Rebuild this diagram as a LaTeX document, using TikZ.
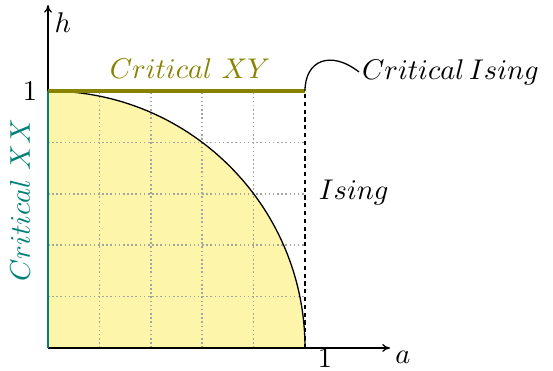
\documentclass[tikz,border=0pt]{standalone}
\usetikzlibrary{arrows.meta}
\definecolor{fillyellow}{RGB}{253,245,170}
\definecolor{xyolive}{RGB}{135,130,0}
\definecolor{xxteal}{RGB}{0,128,120}
\definecolor{gridgray}{RGB}{165,165,160}
\tikzset{
  gridline/.style={gridgray, densely dotted, line width=0.6pt},
  axisline/.style={line width=0.5pt, -{To[length=3pt,width=3pt]}},
  lbl/.style={font=\fontsize{11pt}{13pt}\selectfont, inner sep=1pt},
  isingline/.style={black, line width=1pt, dash pattern=on 1.6pt off 1.4pt},
}
\begin{document}
\begin{tikzpicture}[x=3.47cm,y=3.47cm]
\useasboundingbox (-0.1868,-0.0895) rectangle (1.965,1.354);
% fill
\fill[fillyellow] (0,0) -- (0,1) arc (90:0:1) -- cycle;
% grid
\foreach \i in {1,2,3,4} {
  \draw[gridline] (\i/5,0) -- (\i/5,1);
  \draw[gridline] (0,\i/5) -- (1,\i/5);
}
% arc
\draw[line width=0.5pt] (0,1) arc (90:0:1);
% coordinates
\coordinate (O) at (0,0);
\coordinate (X) at (1.331,0);
\coordinate (Y) at (0,1.335);
\coordinate (P) at (1,1);
\coordinate (Q) at (1,0);
\coordinate (T) at (0,1);
% axes
\draw[axisline] (O) -- (X);
\draw[axisline] (O) -- (Y);
% critical lines
\draw[isingline] (Q) -- (P);
\draw[xyolive, line width=1.6pt] (T) -- (P);
\draw[xxteal, line width=0.9pt] (O) -- (T);
% labels
\node[lbl] (h) at (0.058,1.268) {$h$};
\node[lbl] (a) at (1.381,-0.035) {$a$};
\node[lbl] (one x) at (1.078,-0.042) {$1$};
\node[lbl] (one y) at (-0.07,1.0) {$1$};
\node[lbl, text=xyolive] (cxy) at (0.553,1.089) {$Critical\ XY$};
\node[lbl, text=xxteal, rotate=90] (cxx) at (-0.109,0.576) {$Critical\ XX$};
\node[lbl] (ising) at (1.19,0.603) {$Ising$};
\node[lbl, anchor=west] (cising) at (1.21,1.074) {$Critical\,Ising$};
\draw[line width=0.5pt] (P) .. controls (1.0,1.12) and (1.1,1.16) .. (cising.west);
\end{tikzpicture}
\end{document}
